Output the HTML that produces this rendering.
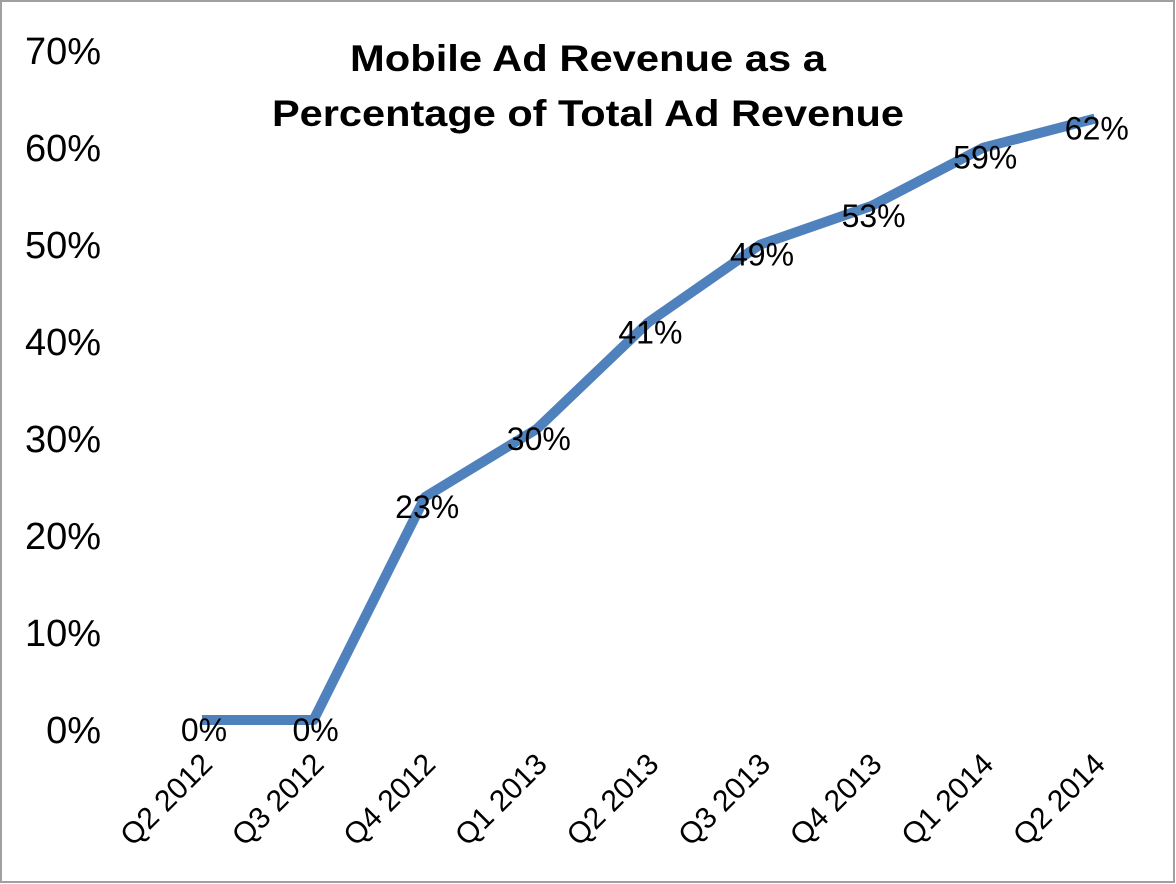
<!DOCTYPE html>
<html><head><meta charset="utf-8"><style>
body{margin:0;background:#fff}
svg{display:block;font-family:"Liberation Sans",sans-serif}
</style></head><body>
<svg width="1176" height="884">
<rect x="1" y="1" width="1173" height="881" fill="#fff" stroke="#a0a0a0" stroke-width="2"/>
<text x="588" y="71" text-anchor="middle" font-size="37" font-weight="bold" textLength="476" lengthAdjust="spacingAndGlyphs">Mobile Ad Revenue as a</text>
<text x="588" y="126" text-anchor="middle" font-size="37" font-weight="bold" textLength="632" lengthAdjust="spacingAndGlyphs">Percentage of Total Ad Revenue</text>
<g id="yaxis"></g><g id="xaxis"></g><g id="series"></g><g id="labels"></g>
</svg>
<script>
const categories=["Q2 2012","Q3 2012","Q4 2012","Q1 2013","Q2 2013","Q3 2013","Q4 2013","Q1 2014","Q2 2014"];
const values=[0,0,23,30,41,49,53,59,62];
const valueLabels=["0%","0%","23%","30%","41%","49%","53%","59%","62%"];
const yTicks=[0,10,20,30,40,50,60,70];
const NS="http://www.w3.org/2000/svg";
const x=i=>202+i*111.6;
const y=v=>720-v*9.7;
function mk(t,a,p){const e=document.createElementNS(NS,t);for(const k in a)e.setAttribute(k,a[k]);document.getElementById(p).appendChild(e);return e;}
yTicks.forEach(t=>{const e=mk('text',{x:101,y:y(t)+23,'text-anchor':'end','font-size':38},'yaxis');e.textContent=t+'%';

});
categories.forEach((c,i)=>{const px=x(i)+12,py=766;const e=mk('text',{x:px,y:py,'text-anchor':'end','font-size':30,transform:`rotate(-45 ${px} ${py})`},'xaxis');e.textContent=c;

});
const pl=mk('polyline',{points:values.map((v,i)=>x(i)+','+y(v)).join(' '),fill:'none',stroke:'#4f81bd','stroke-width':10,'stroke-linejoin':'round'},'series');


values.forEach((v,i)=>{const e=mk('text',{x:x(i)+2,y:y(v)+21,'text-anchor':'middle','font-size':32},'labels');e.textContent=valueLabels[i];

});
</script>
</body></html>
